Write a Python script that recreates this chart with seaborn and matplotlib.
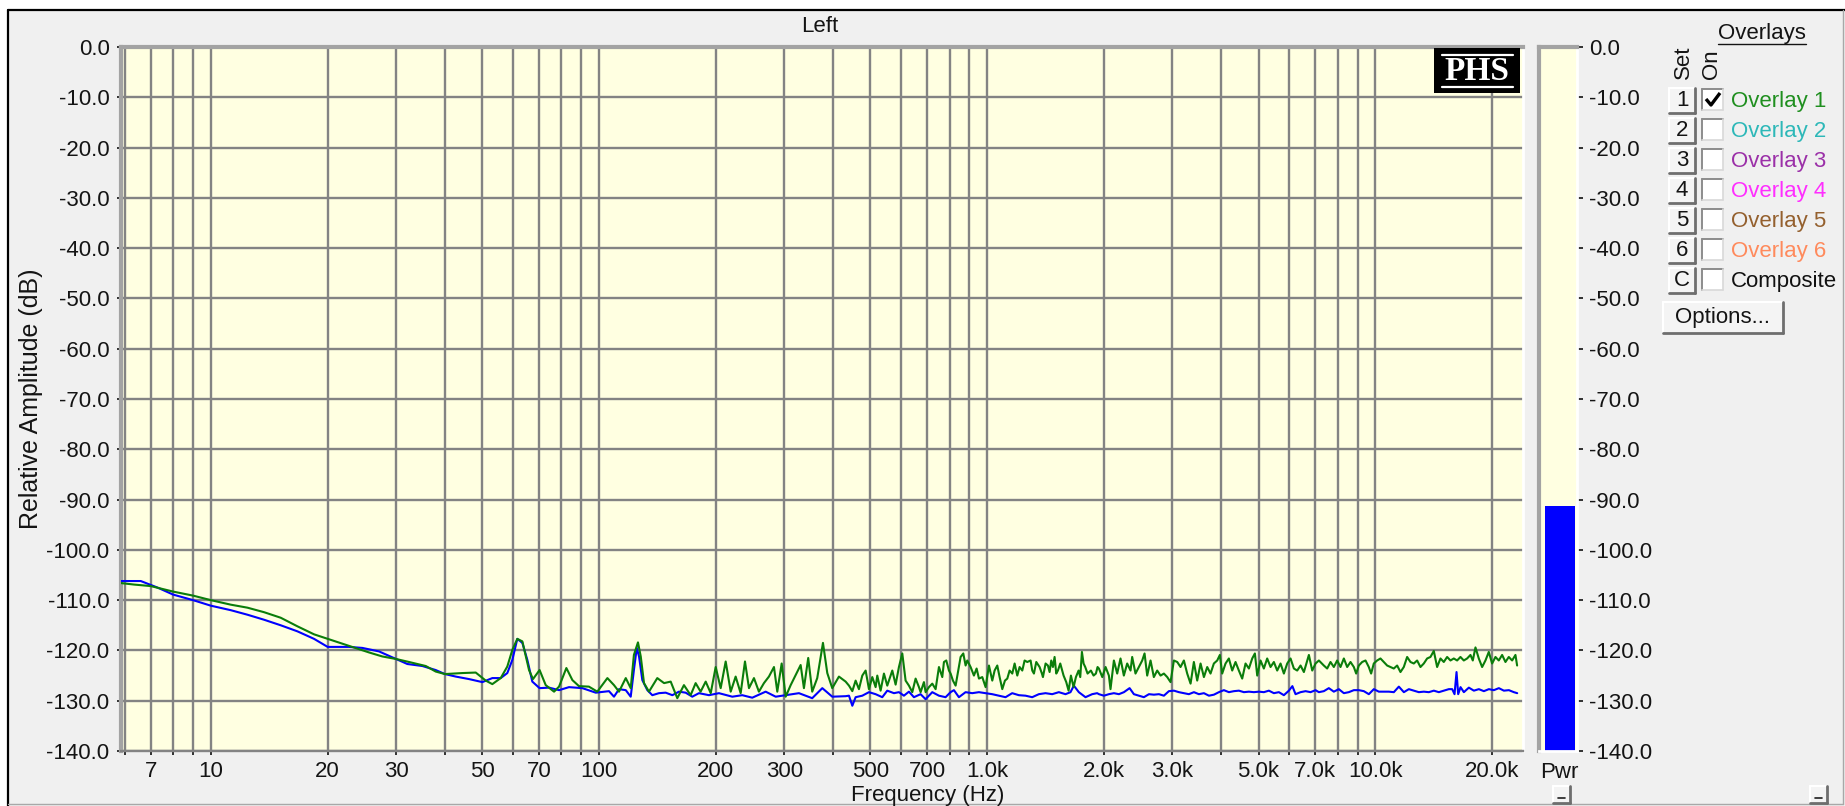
import matplotlib
matplotlib.use("Agg")
import matplotlib.pyplot as plt
from matplotlib.patches import Rectangle
from matplotlib.lines import Line2D
from matplotlib.ticker import FixedLocator, FixedFormatter, NullFormatter
import pandas as pd
import seaborn as sns

W, H = 1845, 806

# ---------------- data ----------------
blue_freq = [5.86, 6.60, 7.29, 8.0, 9.0, 10.0, 11.26, 12.43, 13.72, 15.14, 16.71, 18.45, 20.0,
             22.71, 24.57, 27.13, 30.0, 32.08, 35.08, 37.96, 40.1, 42.76, 46.27, 50.06, 53.12,
             55.82, 58.05, 59.80, 61.60, 63.47, 65.38, 67.33, 70.3, 74.35, 78.9, 83.7, 90.6, 98.1,
             106.1, 109.3, 112.6, 117.2, 120.7, 123.0, 125.1, 126.8, 129.3, 133.2, 137.2, 142.7,
             148.5, 154.5, 160.7, 167.2, 173.9, 180.9, 192.0, 203.7, 220.5, 233.9, 248.2, 268.7,
             285.2, 302.6, 327.4, 354.2, 376.0, 398.9, 431.8,
             440.5, 449.3, 458.2, 476.7, 495.9, 515.9, 536.7, 552.8, 575.1, 592.4, 610.2, 628.6,
             647.5, 673.6, 693.9, 721.9, 751.0, 781.2, 804.8, 820.8, 845.5, 879.6, 915.0, 951.9,
             990.3, 1030.2, 1071.7, 1114.9, 1159.8, 1206.6, 1255.2, 1305.8, 1358.4, 1413.2, 1470.2,
             1529.4, 1591.1, 1639.0, 1671.8, 1722.1, 1791.5, 1863.7, 1919.8,
             1940, 1998, 2058, 2120, 2184, 2250, 2327, 2387, 2459, 2533, 2610, 2688, 2769, 2852,
             2938, 3027, 3118, 3212, 3308, 3408, 3510, 3616, 3725, 3837, 3952, 4071, 4194, 4320,
             4450, 4584, 4722, 4864, 5010, 5161, 5316, 5476, 5641, 5811, 5986, 6111, 6227, 6415,
             6608, 6807, 7012, 7151,
             7365, 7587, 7815, 8050, 8293, 8542, 8799, 9064, 9337, 9618, 9908, 10206, 10513, 10830,
             11156, 11492, 11838, 12194, 12561, 12939, 13329, 13730, 14143, 14569, 15008, 15460,
             15770, 15990, 16180, 16340, 16570, 16899, 17408, 17932, 18472, 19028, 19601, 20191,
             20799, 21425, 22070, 22735, 23190]
blue_db = [-106.2, -106.2, -107.5, -108.9, -110.0, -111.1, -112.0, -112.9, -113.9, -115.0, -116.2, -117.7, -119.3,
           -119.3, -119.5, -120.2, -121.7, -122.7, -123.1, -123.9, -124.7, -125.2, -125.7, -126.3, -125.5,
           -125.5, -124.5, -121.9, -117.7, -118.5, -121.9, -126.2, -127.5, -127.4, -127.9, -127.3, -127.5, -128.4,
           -128.1, -129.2, -127.7, -127.9, -129.2, -123.9, -119.5, -121.2, -125.9, -127.9, -128.9, -128.5,
           -128.4, -128.9, -128.2, -128.4, -129.2, -128.5, -128.9, -128.5, -129.2, -128.9, -129.4, -128.2,
           -129.2, -128.9, -128.5, -129.5, -127.5, -129.2, -129.1,
           -129.0, -131.0, -129.3, -129.0, -128.3, -128.7, -129.3, -128.0, -128.5, -128.3, -129.0, -128.2,
           -129.3, -128.7, -129.7, -128.3, -129.0, -129.3, -128.3, -127.9, -129.3, -128.3, -128.5, -128.3,
           -128.5, -128.7, -129.0, -129.3, -128.5, -128.9, -129.0, -129.3, -128.7, -128.5, -128.7,
           -128.3, -128.7, -128.3, -127.0, -128.3, -129.3, -128.7, -128.5,
           -128.7, -129.0, -128.7, -128.5, -128.7, -128.3, -127.5, -128.7, -129.0, -129.3, -128.7, -128.8, -128.7, -129.0,
           -128.1, -128.0, -128.3, -128.5, -128.7, -128.3, -128.7, -128.5, -129.0, -128.8, -128.3, -127.9, -128.3, -128.1,
           -128.0, -128.3, -128.2, -128.3, -128.2, -128.3, -128.0, -128.5, -128.3, -128.9, -128.0, -127.1, -128.7, -128.3,
           -128.1, -128.3, -127.9, -128.3,
           -128.1, -127.5, -128.2, -127.7, -128.5, -128.3, -127.9, -127.9, -128.1, -128.7, -127.7, -128.2, -128.2, -128.2,
           -128.3, -127.2, -128.3, -127.7, -128.0, -128.3, -128.2, -128.3, -128.0, -128.3, -128.0, -127.7,
           -127.7, -128.7, -124.3, -128.7, -127.3, -128.3, -127.4, -128.0, -127.7, -128.1, -127.7, -127.9,
           -127.5, -128.0, -127.9, -128.3, -128.5]

green_freq = [5.86, 6.34, 7.0, 8.0, 9.0, 10.0, 11.26, 12.43, 13.72, 15.14, 16.71, 18.45, 20.0,
              22.71, 25.56, 27.66, 30.0, 32.41, 35.79, 37.96, 40.1, 44.46, 48.14, 51.08, 53.12, 55.82,
              58.05, 59.80, 61.60, 63.47, 66.03, 67.6, 70.3, 72.9, 76.6, 78.9, 82.4, 85.4, 88.8, 94.2, 99.0,
              105.1, 109.3, 112.6, 117.2, 120.7, 123.0, 126.0, 128.1, 130.6, 134.5, 141.3, 147.1, 153.0,
              159.1, 165.5, 172.2, 177.4, 182.7, 188.3, 194.0, 199.8, 205.8, 212.0, 218.4, 224.9, 231.7,
              237.7, 243.4, 250.7, 258.2, 266.0, 274.0, 282.3, 287.9, 295.5, 302.6, 311.7, 321.1, 330.7,
              337.2, 345.9, 354.2, 364.9, 377.5, 387.3, 398.9, 415.0, 431.8,
              440.5, 449.3, 458.2, 467.3, 476.7, 486.2, 495.9, 505.8, 515.9, 521.0, 531.4, 542.0, 552.8,
              563.9, 569.5, 580.9, 592.4, 604.3, 616.3, 628.6, 641.2, 654.0, 667.1, 673.7, 687.1, 694.0,
              707.8, 722.0, 736.4, 751.1, 766.1, 773.7, 784.5, 797.0, 804.9, 816.1, 829.1, 842.3, 854.1,
              867.7, 879.8, 888.5, 906.2, 924.3, 939.1, 952.2, 971.2, 990.6, 1010.4, 1030.6, 1044.9,
              1061.6, 1076.4, 1093.6, 1111.0, 1126.5, 1142.2, 1160.4, 1176.6, 1195.3, 1211.9, 1231.3,
              1248.4, 1268.3, 1293.6, 1306.4, 1319.4, 1337.8, 1364.5, 1383.5, 1391.8, 1413.9, 1433.6,
              1447.9, 1462.2, 1476.8, 1491.4, 1506.2, 1521.2, 1542.4, 1573.1, 1598.2, 1620.5, 1643.1,
              1669.2, 1692.5, 1719.5, 1736.6, 1753.8, 1771.2, 1788.8, 1813.7, 1849.8, 1879.3, 1905.5, 1924.4,
              1940, 1979, 2018, 2058, 2078, 2120, 2162, 2205, 2249, 2294, 2340, 2363, 2410, 2459, 2508,
              2543, 2583, 2635, 2687, 2741, 2796, 2852, 2909, 2967, 3026, 3087, 3148, 3211, 3275, 3341,
              3407, 3475, 3545, 3616, 3688, 3761, 3836, 3913, 3975, 4030, 4111, 4193, 4277, 4362, 4449,
              4538, 4629, 4722, 4816, 4893, 4961, 5059, 5160, 5263, 5369, 5476, 5585, 5697, 5811, 5927,
              6045, 6166, 6289, 6415, 6543, 6674, 6740, 6875, 7012, 7152,
              7365, 7512, 7662, 7815, 7971, 8130, 8293, 8458, 8627, 8799, 8922, 9064, 9245, 9430, 9616,
              9750, 9905, 10103, 10305, 10511, 10721, 10935, 11153, 11376, 11603, 11835, 12071, 12312,
              12558, 12808, 13064, 13325, 13591, 13862, 14139, 14421, 14709, 15003, 15302, 15608, 15920,
              16237, 16562, 16893, 17230, 17574, 17819, 18103, 18464, 18833, 19209, 19592, 19983, 20382,
              20789, 21204, 21628, 22060, 22500, 22949, 23177]
green_db = [-106.6, -106.9, -107.2, -108.3, -109.1, -110.0, -110.9, -111.5, -112.4, -113.5, -115.2, -116.8, -117.7,
            -119.1, -120.4, -121.2, -121.7, -122.3, -123.1, -124.2, -124.7, -124.5, -124.4, -126.0, -126.7, -125.5,
            -123.2, -119.9, -117.7, -118.2, -123.9, -125.7, -123.9, -126.9, -128.2, -127.2, -123.5, -125.9, -127.1, -127.2, -128.2,
            -125.5, -126.9, -128.2, -125.5, -127.5, -120.9, -118.4, -121.2, -126.5, -128.2, -125.5, -126.5, -126.2,
            -129.5, -126.9, -128.9, -126.5, -128.2, -126.2, -128.5, -123.3, -127.5, -122.2, -128.2, -125.2, -128.5,
            -122.2, -127.5, -125.5, -128.2, -126.5, -125.2, -123.3, -128.2, -122.6, -129.2, -126.9, -124.9, -122.9,
            -127.5, -121.5, -128.2, -125.5, -118.5, -124.5, -127.5, -125.2, -126.2,
            -127.0, -128.1, -126.0, -127.7, -125.0, -124.0, -127.7, -125.3, -127.3, -125.0, -128.0, -124.6, -127.0,
            -125.0, -124.0, -126.8, -123.3, -120.6, -126.0, -127.0, -128.3, -125.6, -127.3, -128.3, -126.3, -128.3,
            -127.3, -126.6, -127.7, -123.3, -125.3, -122.3, -122.0, -124.0, -124.6, -126.0, -127.0, -124.0, -121.3,
            -120.6, -123.0, -122.0, -123.3, -125.0, -123.6, -125.6, -125.3, -127.3, -123.0, -126.0, -124.0,
            -123.0, -125.3, -127.7, -126.0, -125.6, -124.0, -124.6, -122.6, -125.0, -123.3, -124.0,
            -122.0, -122.3, -122.0, -124.0, -124.6, -122.3, -123.3, -124.6, -125.3, -122.6, -123.0,
            -124.3, -122.0, -123.3, -121.3, -124.6, -124.0, -122.6, -125.0, -126.3, -128.0, -125.0,
            -127.3, -125.3, -124.0, -125.3, -120.3, -122.6, -123.3, -124.6, -124.0, -125.0, -124.6, -123.3,
            -123.6, -125.3, -123.3, -125.0, -127.7, -122.0, -124.6, -121.6, -125.0, -122.6, -124.0, -121.3, -124.6, -123.3, -122.0,
            -120.6, -125.0, -122.0, -125.3, -124.0, -125.0, -124.6, -125.3, -126.3, -122.0, -122.3, -123.3, -122.0, -124.6, -126.6,
            -122.3, -126.0, -122.6, -125.3, -123.3, -124.6, -122.6, -122.0, -120.9, -124.6, -122.6, -121.6, -124.0, -122.3, -124.0,
            -125.6, -122.6, -123.6, -121.6, -120.6, -125.0, -122.0, -123.6, -121.6, -123.3, -122.3, -124.0, -122.6, -124.6, -122.6,
            -121.6, -123.6, -124.0, -123.0, -124.3, -122.0, -120.9, -124.0, -122.6, -122.0,
            -123.0, -123.6, -122.3, -123.3, -122.0, -123.3, -121.6, -123.3, -122.3, -123.3, -124.6, -123.0, -122.3, -122.0, -123.3,
            -124.6, -122.6, -122.0, -121.6, -122.3, -123.0, -123.3, -123.6, -123.0, -124.3, -123.3, -121.3, -122.3,
            -122.6, -122.0, -123.3, -122.6, -121.6, -121.3, -120.1, -123.3, -121.6, -122.3, -121.3, -122.0, -121.6,
            -122.0, -121.3, -122.0, -121.6, -120.9, -122.0, -119.4, -121.6, -123.3, -122.0, -120.3, -122.6, -121.3,
            -122.0, -120.9, -122.3, -121.3, -122.0, -120.9, -123.0]

power_level = -91.3

y_ticks = [0, -10, -20, -30, -40, -50, -60, -70, -80, -90, -100, -110, -120, -130, -140]
x_major = [7, 10, 20, 30, 50, 70, 100, 200, 300, 500, 700, 1000, 2000, 3000, 5000, 7000, 10000, 20000]
x_major_labels = ["7", "10", "20", "30", "50", "70", "100", "200", "300", "500", "700",
                  "1.0k", "2.0k", "3.0k", "5.0k", "7.0k", "10.0k", "20.0k"]
x_limits = (5.86, 24000)

overlay_keys = ["1", "2", "3", "4", "5", "6", "C"]
overlay_labels = ["Overlay 1", "Overlay 2", "Overlay 3", "Overlay 4", "Overlay 5", "Overlay 6", "Composite"]
overlay_colors = ["#1F8F1F", "#2DB8B8", "#9B30A8", "#FF2EFF", "#94602E", "#FF8A5C", "#111111"]
overlay_on = [True, False, False, False, False, False, False]

# ---------------- style ----------------
sns.set_theme(style="white")
plt.rcParams["font.family"] = ["Liberation Sans", "DejaVu Sans"]
FS = 16
TXT = "#141414"
GRID = "#838383"
PLOT_BG = "#FFFFE1"

fig = plt.figure(figsize=(W / 100, H / 100), dpi=100)
fig.patch.set_facecolor("white")


def R(x0, y0, x1, y1):
    return [x0 / W, 1 - y1 / H, (x1 - x0) / W, (y1 - y0) / H]


def P(x, y):
    return (x / W, 1 - y / H)


def fline(xs, ys, **kw):
    fig.add_artist(Line2D([x / W for x in xs], [1 - y / H for y in ys],
                          transform=fig.transFigure, **kw))


def frect(x0, y0, x1, y1, **kw):
    fig.add_artist(Rectangle(P(x0, y1), (x1 - x0) / W, (y1 - y0) / H,
                             transform=fig.transFigure, **kw))


# window panel
frect(8, 10, W, H, facecolor="#F0F0F0", edgecolor="none", zorder=-10)
fline([8, W], [10, 10], color="#000000", lw=1.6, zorder=-9)
fline([8, 8], [10, H], color="#000000", lw=1.6, zorder=-9)
fline([8, 1843], [804, 804], color="#A8A8A8", lw=1.0, zorder=-9)
fline([1843, 1843], [10, 804], color="#A8A8A8", lw=1.0, zorder=-9)

# ---------------- main spectrum axes ----------------
ax = fig.add_axes(R(120.7, 47, 1523, 751))
ax.set_facecolor(PLOT_BG)
df_blue = pd.DataFrame({"Frequency": blue_freq, "Amplitude": blue_db})
df_green = pd.DataFrame({"Frequency": green_freq, "Amplitude": green_db})
sns.lineplot(data=df_blue, x="Frequency", y="Amplitude", color="#0000FF", lw=1.5,
             estimator=None, sort=False, ax=ax, zorder=3)
sns.lineplot(data=df_green, x="Frequency", y="Amplitude", color="#0A7D0A", lw=1.5,
             estimator=None, sort=False, ax=ax, zorder=4)
ax.set_xscale("log")
ax.set_xlim(*x_limits)
ax.set_ylim(-140, 0)
ax.set_xlabel("")
ax.set_ylabel("")

minor_x = [m * 10 ** e for e in range(0, 5) for m in range(1, 10)
           if x_limits[0] < m * 10 ** e < x_limits[1] and m * 10 ** e not in x_major]
ax.xaxis.set_major_locator(FixedLocator(x_major))
ax.xaxis.set_major_formatter(FixedFormatter(x_major_labels))
ax.xaxis.set_minor_locator(FixedLocator(minor_x))
ax.xaxis.set_minor_formatter(NullFormatter())
ax.set_yticks(y_ticks)
ax.set_yticklabels([f"{v:.1f}" for v in y_ticks])
ax.yaxis.set_minor_locator(FixedLocator([]))

ax.grid(True, which="both", axis="x", color=GRID, lw=1.7)
ax.grid(True, which="major", axis="y", color=GRID, lw=1.7)
ax.set_axisbelow(True)
ax.tick_params(axis="both", which="both", direction="out", length=3, width=1.4,
               color="#303030", labelcolor=TXT, labelsize=FS)
ax.tick_params(axis="y", pad=5, left=True)
ax.tick_params(axis="x", which="both", pad=4, bottom=True)
for s in ("left", "top"):
    ax.spines[s].set_color("#A3A3A3")
    ax.spines[s].set_linewidth(3)
ax.spines["bottom"].set_color(GRID)
ax.spines["bottom"].set_linewidth(1.7)
ax.spines["right"].set_color("#FFFFFF")
ax.spines["right"].set_linewidth(2)

# ---------------- power bar axes ----------------
axp = fig.add_axes(R(1539, 47, 1577, 751))
axp.set_facecolor(PLOT_BG)
axp.bar([0.55], [power_level - (-140)], bottom=-140, width=0.8, color="#0000FF", edgecolor="none")
axp.set_xlim(0, 1)
axp.set_ylim(-140, 0)
axp.set_xticks([])
axp.yaxis.tick_right()
axp.set_yticks(y_ticks)
axp.set_yticklabels([f"{v:.1f}" for v in y_ticks])
axp.tick_params(axis="y", direction="out", length=4, width=1.4, color="#303030",
                labelcolor=TXT, labelsize=FS, pad=5, right=True, left=False)
for s in ("left", "top"):
    axp.spines[s].set_color("#A3A3A3")
    axp.spines[s].set_linewidth(3)
for s in ("right", "bottom"):
    axp.spines[s].set_color("#FFFFFF")
    axp.spines[s].set_linewidth(2)

# ---------------- texts ----------------
fig.text(*P(820, 27), "Left", ha="center", va="center", fontsize=FS, color=TXT)
fig.text(*P(31, 399), "Relative Amplitude (dB)", ha="center", va="center",
         rotation=90, fontsize=18, color=TXT)
fig.text(*P(928, 795), "Frequency (Hz)", ha="center", va="center", fontsize=FS, color=TXT)
fig.text(*P(1559, 772), "Pwr", ha="center", va="center", fontsize=FS, color=TXT)

# PHS logo
frect(1434, 48, 1520, 93, facecolor="#000000", edgecolor="none", zorder=20)
fline([1442, 1513], [55, 55], color="white", lw=1.6, zorder=21)
fline([1442, 1513], [87, 87], color="white", lw=1.6, zorder=21)
fig.text(*P(1477, 72), "PHS", ha="center", va="center", color="white", fontsize=24,
         fontweight="bold", family="Liberation Serif", zorder=22)


def button(x0, y0, x1, y1, label, fs=FS):
    frect(x0, y0, x1, y1, facecolor="#F4F4F4", edgecolor="none", zorder=5)
    fline([x0, x1], [y0, y0], color="#FFFFFF", lw=1.5, zorder=6)
    fline([x0, x0], [y0, y1], color="#FFFFFF", lw=1.5, zorder=6)
    fline([x0, x1], [y1, y1], color="#6E6E6E", lw=2.0, zorder=6)
    fline([x1, x1], [y0, y1], color="#6E6E6E", lw=2.0, zorder=6)
    if label:
        fig.text(*P((x0 + x1) / 2, (y0 + y1) / 2), label, ha="center", va="center",
                 fontsize=fs, color=TXT, zorder=7)


# Overlays panel
fig.text(*P(1762, 34), "Overlays", ha="center", va="center", fontsize=FS, color=TXT)
fline([1718, 1806], [44, 44], color=TXT, lw=1.0)
fig.text(*P(1683, 79), "Set", ha="center", va="bottom", rotation=90, fontsize=FS, color=TXT)
fig.text(*P(1712, 79), "On", ha="center", va="bottom", rotation=90, fontsize=FS, color=TXT)
for i, (k, lab, col, on) in enumerate(zip(overlay_keys, overlay_labels, overlay_colors, overlay_on)):
    yc = 100 + 30 * i
    button(1669, yc - 12, 1695, yc + 13, k)
    frect(1702, yc - 11, 1723, yc + 10, facecolor="white", edgecolor="none", zorder=5)
    fline([1702, 1723], [yc - 11, yc - 11], color="#8C8C8C", lw=1.4, zorder=6)
    fline([1702, 1702], [yc - 11, yc + 10], color="#8C8C8C", lw=1.4, zorder=6)
    fline([1702, 1723], [yc + 10, yc + 10], color="#D8D8D8", lw=1.2, zorder=6)
    fline([1723, 1723], [yc - 11, yc + 10], color="#D8D8D8", lw=1.2, zorder=6)
    if on:
        fline([1706, 1711, 1720], [yc - 1, yc + 5, yc - 7], color="#000000", lw=2.4,
              zorder=7, solid_capstyle="butt")
    fig.text(*P(1731, yc + 1), lab, ha="left", va="center", fontsize=FS, color=col)
button(1663, 302, 1783, 333, "Options...")

# small buttons at the bottom
button(1553, 786, 1570, 803, "")
fline([1558, 1565], [798, 798], color="#202020", lw=1.2, zorder=8)
button(1810, 786, 1827, 803, "")
fline([1815, 1822], [798, 798], color="#202020", lw=1.2, zorder=8)

fig.savefig("out.png", dpi=100, facecolor=fig.get_facecolor())
